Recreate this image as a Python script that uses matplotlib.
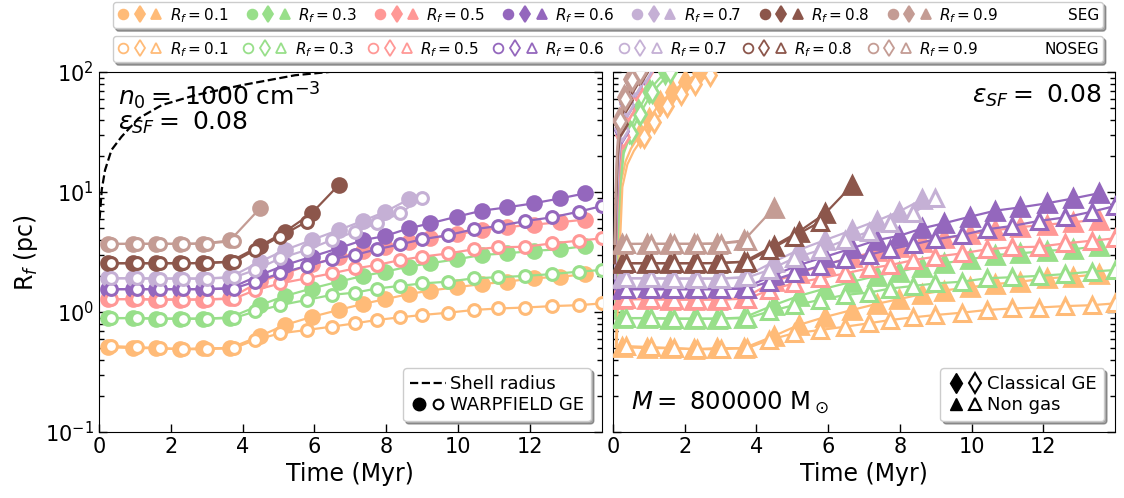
import matplotlib
matplotlib.use("Agg")
import matplotlib.pyplot as plt
from matplotlib.lines import Line2D
from matplotlib.legend_handler import HandlerTuple

# ---------------------------------------------------------------- data
rf_labels = ["0.1", "0.3", "0.5", "0.6", "0.7", "0.8", "0.9"]
colors = ["#ffbb78", "#98df8a", "#ff9896", "#9467bd", "#c5b0d5", "#8c564b", "#c49c94"]

# output times (Myr) of the segregated / non-segregated runs
t_seg = [0.25, 0.95, 1.6, 2.25, 2.9, 3.65, 4.48, 5.18, 5.92, 6.67, 7.36, 7.97,
         8.62, 9.22, 9.96, 10.66, 11.36, 12.1, 12.84, 13.54]
t_noseg = [0.35, 1.05, 1.7, 2.35, 3.0, 3.75, 4.35, 5.04, 5.78, 6.48, 7.13, 7.73,
           8.38, 8.99, 9.73, 10.43, 11.12, 11.87, 12.61, 13.35, 14.0]

# radius R_f (pc) of each run, SEG
r_seg_01 = [0.51, 0.50, 0.50, 0.49, 0.50, 0.50, 0.63, 0.78, 0.91, 1.04, 1.17, 1.28,
            1.41, 1.51, 1.61, 1.71, 1.79, 1.91, 1.97, 2.06]
r_seg_03 = [0.89, 0.89, 0.88, 0.88, 0.88, 0.90, 1.14, 1.36, 1.57, 1.79, 2.00, 2.17,
            2.39, 2.55, 2.75, 2.99, 3.08, 3.24, 3.33, 3.55]
r_seg_05 = [1.28, 1.28, 1.27, 1.27, 1.27, 1.30, 1.80, 2.10, 2.50, 2.85, 3.20, 3.50,
            3.85, 4.10, 4.45, 4.80, 5.10, 5.35, 5.60, 5.90]
r_seg_06 = [1.55, 1.55, 1.55, 1.55, 1.55, 1.58, 2.03, 2.46, 2.89, 3.40, 3.98, 4.30,
            4.98, 5.48, 6.23, 6.99, 7.45, 8.05, 8.85, 9.75]
r_seg_07 = [1.91, 1.91, 1.90, 1.90, 1.90, 1.95, 2.62, 3.29, 3.98, 4.82, 5.77, 6.85, 8.68]
r_seg_08 = [2.55, 2.55, 2.55, 2.55, 2.56, 2.63, 3.55, 4.67, 6.64, 11.4]
r_seg_09 = [3.69, 3.70, 3.70, 3.70, 3.72, 3.95, 7.3]

# radius R_f (pc) of each run, NOSEG
r_noseg_01 = [0.52, 0.51, 0.50, 0.49, 0.49, 0.50, 0.585, 0.664, 0.708, 0.755, 0.805,
              0.858, 0.903, 0.944, 0.987, 1.04, 1.07, 1.09, 1.12, 1.14, 1.18]
r_noseg_03 = [0.89, 0.89, 0.88, 0.88, 0.88, 0.89, 1.01, 1.14, 1.26, 1.39, 1.45, 1.57,
              1.65, 1.73, 1.79, 1.91, 1.95, 2.00, 2.07, 2.17, 2.24]
r_noseg_05 = [1.28, 1.28, 1.27, 1.27, 1.27, 1.29, 1.52, 1.73, 1.91, 2.10, 2.31, 2.46,
              2.71, 2.89, 3.08, 3.33, 3.46, 3.50, 3.73, 3.93, 4.11]
r_noseg_06 = [1.55, 1.55, 1.55, 1.55, 1.55, 1.57, 1.79, 2.10, 2.42, 2.75, 2.99, 3.33,
              3.66, 4.03, 4.38, 4.89, 5.21, 5.73, 6.15, 6.85, 7.64]
r_noseg_07 = [1.91, 1.91, 1.90, 1.90, 1.90, 1.94, 2.24, 2.80, 3.29, 3.98, 4.67, 5.48,
              6.64, 8.97]
r_noseg_08 = [2.55, 2.55, 2.55, 2.55, 2.56, 2.62, 3.29, 4.25, 5.66]
r_noseg_09 = [3.69, 3.70, 3.70, 3.70, 3.72, 3.90]

r_seg = [r_seg_01, r_seg_03, r_seg_05, r_seg_06, r_seg_07, r_seg_08, r_seg_09]
r_noseg = [r_noseg_01, r_noseg_03, r_noseg_05, r_noseg_06, r_noseg_07, r_noseg_08, r_noseg_09]

# classical gas-expulsion runs: (time in Myr, radius in pc)
cge_seg = [
    ([0.08, 0.15, 0.22, 0.35, 0.50, 0.74, 1.00, 1.30, 1.65, 2.00, 2.40, 2.80],
     [0.51, 3.0, 12.0, 18.0, 23.0, 30.0, 40.0, 55.0, 68.0, 83.0, 98.0, 112.0]),
    ([0.06, 0.12, 0.18, 0.28, 0.45, 0.69, 1.00, 1.45, 1.80],
     [0.89, 4.0, 12.0, 22.0, 32.0, 47.0, 70.0, 100.0, 118.0]),
    ([0.05, 0.10, 0.15, 0.25, 0.40, 0.60, 0.85, 1.10],
     [1.28, 6.0, 15.0, 30.0, 50.0, 75.0, 100.0, 120.0]),
    ([0.05, 0.09, 0.14, 0.22, 0.35, 0.55, 0.80, 1.05],
     [1.55, 7.0, 17.0, 33.0, 55.0, 80.0, 100.0, 120.0]),
    ([0.05, 0.09, 0.14, 0.22, 0.36, 0.56, 0.82, 1.05],
     [1.91, 8.0, 18.0, 34.0, 55.0, 80.0, 100.0, 118.0]),
    ([0.04, 0.08, 0.12, 0.20, 0.32, 0.50, 0.72, 0.95],
     [2.55, 9.0, 20.0, 38.0, 60.0, 85.0, 100.0, 120.0]),
    ([0.04, 0.07, 0.11, 0.18, 0.30, 0.48, 0.70, 0.90],
     [3.70, 10.0, 22.0, 40.0, 62.0, 88.0, 100.0, 118.0]),
]
cge_noseg = [
    ([0.10, 0.18, 0.26, 0.40, 0.58, 0.85, 1.15, 1.50, 1.90, 2.30, 2.70, 3.10],
     [0.51, 3.0, 11.0, 17.0, 22.0, 29.0, 38.0, 52.0, 65.0, 80.0, 95.0, 108.0]),
    ([0.07, 0.13, 0.20, 0.30, 0.50, 0.75, 1.10, 1.60, 1.90],
     [0.89, 4.0, 11.0, 21.0, 31.0, 45.0, 68.0, 100.0, 115.0]),
    ([0.06, 0.11, 0.17, 0.27, 0.43, 0.65, 0.92, 1.20],
     [1.28, 6.0, 14.0, 29.0, 48.0, 72.0, 100.0, 118.0]),
    ([0.06, 0.10, 0.15, 0.24, 0.38, 0.60, 0.86, 1.10],
     [1.55, 7.0, 16.0, 32.0, 53.0, 78.0, 100.0, 118.0]),
    ([0.06, 0.10, 0.15, 0.24, 0.39, 0.61, 0.88, 1.10],
     [1.91, 8.0, 17.0, 33.0, 53.0, 78.0, 100.0, 116.0]),
    ([0.05, 0.09, 0.13, 0.22, 0.35, 0.54, 0.78, 1.00],
     [2.55, 9.0, 19.0, 37.0, 58.0, 83.0, 100.0, 118.0]),
    ([0.05, 0.08, 0.12, 0.20, 0.33, 0.52, 0.75, 0.95],
     [3.70, 10.0, 21.0, 39.0, 60.0, 86.0, 100.0, 116.0]),
]

# shell radius of the gas bubble
t_shell = [0.02, 0.08, 0.17, 0.35, 0.63, 1.10, 1.75, 2.67, 3.97, 5.46, 6.40, 7.50]
r_shell = [6.0, 10.5, 15.2, 22.4, 28.9, 41.0, 53.0, 64.0, 77.6, 94.0, 100.0, 112.0]

# ---------------------------------------------------------------- figure
fig = plt.figure(figsize=(11.24, 4.98), dpi=100)
ax1 = fig.add_axes([0.088, 0.1325, 0.4475, 0.7229])
ax2 = fig.add_axes([0.5454, 0.1325, 0.4466, 0.7229])

ms = 10
mew = 2.0
lw = 1.6

for ax in (ax1, ax2):
    ax.set_yscale("log")
    ax.set_ylim(0.1, 100)
    ax.set_xlim(0, 14)
    ax.set_xticks([0, 2, 4, 6, 8, 10, 12])
    ax.tick_params(which="both", direction="in", left=True, right=True,
                   top=False, labelsize=15)
    ax.tick_params(which="major", length=6, width=1)
    ax.tick_params(which="minor", length=3.5, width=1)
    ax.set_xlabel("Time (Myr)", fontsize=17)

ax2.tick_params(labelleft=False)
ax1.set_ylabel(r"R$_f$ (pc)", fontsize=17)

# left: WARPFIELD gas expulsion
ax1.plot(t_shell, r_shell, "k--", lw=1.6, zorder=5)
for c, rs, rn in zip(colors, r_seg, r_noseg):
    ax1.plot(t_seg[:len(rs)], rs, "-o", color=c, lw=lw, ms=ms, mew=mew, mec=c, zorder=3)
    ax1.plot(t_noseg[:len(rn)], rn, "-o", color=c, lw=lw, ms=ms - 1.5, mew=2.2,
             mec=c, mfc="white", zorder=4)

# right: classical gas expulsion and no gas
for c, (tc, rc), (tn, rn2) in zip(colors, cge_seg, cge_noseg):
    mk = [i for i, r in enumerate(rc) if 25 <= r <= 105]
    ax2.plot(tc, rc, "-d", color=c, lw=lw, ms=ms + 1, mew=mew, mec=c,
             markevery=mk, zorder=3)
    mk = [i for i, r in enumerate(rn2) if 25 <= r <= 105]
    ax2.plot(tn, rn2, "-d", color=c, lw=lw, ms=ms, mew=mew, mec=c, mfc="white",
             markevery=mk, zorder=3)
for c, rs, rn in zip(colors, r_seg, r_noseg):
    ax2.plot(t_seg[:len(rs)], rs, "-^", color=c, lw=lw, ms=ms + 3, mew=mew, mec=c, zorder=3)
    ax2.plot(t_noseg[:len(rn)], rn, "-^", color=c, lw=lw, ms=ms + 1, mew=2.2,
             mec=c, mfc="white", zorder=4)

# annotations
ax1.text(0.038, 0.975, r"$n_0=$ 1000 cm$^{-3}$", transform=ax1.transAxes,
         fontsize=18, va="top", ha="left", zorder=6)
ax1.text(0.038, 0.895, r"$\varepsilon_{SF}=$ 0.08", transform=ax1.transAxes,
         fontsize=18, va="top", ha="left", zorder=6)
ax2.text(0.975, 0.97, r"$\varepsilon_{SF}=$ 0.08", transform=ax2.transAxes,
         fontsize=18, va="top", ha="right")
ax2.text(0.035, 0.045, r"$M=$ 800000 M$_\odot$", transform=ax2.transAxes,
         fontsize=17.5, va="bottom", ha="left")

# legends inside the panels
h_shell = Line2D([], [], color="k", ls="--", lw=1.6)
h_wf = (Line2D([], [], color="k", marker="o", ls="none", ms=9),
        Line2D([], [], color="k", marker="o", ls="none", ms=7, mfc="white", mew=1.5))
ax1.legend([h_shell, h_wf], ["Shell radius", "WARPFIELD GE"], loc="lower right",
           fontsize=13, fancybox=True, shadow=True, framealpha=1,
           handler_map={tuple: HandlerTuple(ndivide=None, pad=0.1)},
           handlelength=2.0, handletextpad=0.2, borderpad=0.4, labelspacing=0.15,
           borderaxespad=0.6)

h_cge = (Line2D([], [], color="k", marker="d", ls="none", ms=10),
         Line2D([], [], color="k", marker="d", ls="none", ms=10, mfc="white", mew=1.5))
h_ng = (Line2D([], [], color="k", marker="^", ls="none", ms=9),
        Line2D([], [], color="k", marker="^", ls="none", ms=9, mfc="white", mew=1.5))
ax2.legend([h_cge, h_ng], ["Classical GE", "Non gas"], loc="lower right",
           fontsize=13, fancybox=True, shadow=True, framealpha=1,
           handler_map={tuple: HandlerTuple(ndivide=None, pad=0.1)},
           handlelength=2.0, handletextpad=0.2, borderpad=0.4, labelspacing=0.15,
           borderaxespad=0.6)

# figure-level colour legends, both rows stretched to the same width
def triple(c, filled):
    kw = dict(ls="none", color=c, mec=c, mew=1.3)
    if not filled:
        kw["mfc"] = "white"
    return (Line2D([], [], marker="o", ms=7, **kw),
            Line2D([], [], marker="d", ms=8.5, **kw),
            Line2D([], [], marker="^", ms=7.5, **kw))

blank = Line2D([], [], ls="none")
x0, width, h = 113 / 1124, 990 / 1124, 27 / 498
for row, (filled, tag) in enumerate([(True, "SEG"), (False, "NOSEG")]):
    handles = [triple(c, filled) for c in colors] + [blank]
    labels = [r"$R_f = $" + v for v in rf_labels] + [tag]
    top = 1 - (2 + row * 34) / 498
    fig.legend(handles, labels, ncol=8, loc="upper left",
               bbox_to_anchor=(x0, top - h, width, h), mode="expand",
               borderaxespad=0, fontsize=11,
               fancybox=True, shadow=True, framealpha=1,
               handler_map={tuple: HandlerTuple(ndivide=None, pad=0.25)},
               handlelength=3.0, handletextpad=0.45, columnspacing=1.0,
               borderpad=0.25)

fig.savefig("out.png", dpi=100)
